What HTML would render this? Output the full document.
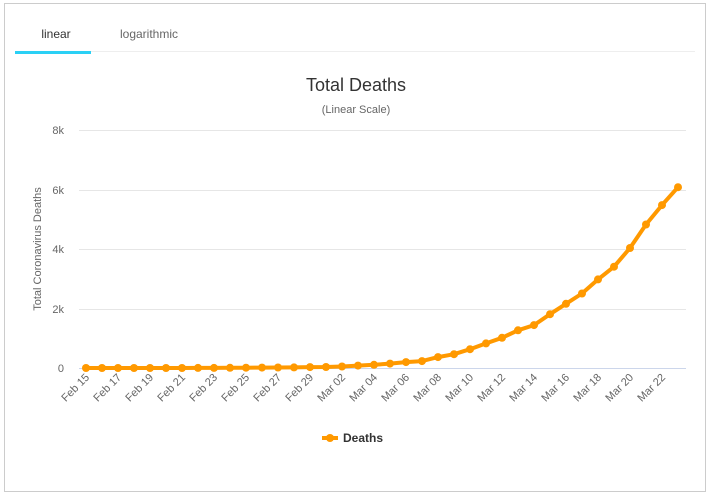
<!DOCTYPE html>
<html><head><meta charset="utf-8"><style>
body{margin:0;background:#fff;font-family:"Liberation Sans",sans-serif;}
</style></head><body>
<svg width="709" height="496" xmlns="http://www.w3.org/2000/svg" font-family="Liberation Sans, sans-serif">
<rect x="4.5" y="3.5" width="701" height="488" fill="#fff" stroke="#ccc"/>
<line x1="15" y1="51.5" x2="695" y2="51.5" stroke="#eee"/>
<rect x="15" y="51" width="76" height="3" fill="#2ad0f5"/>
<text x="56" y="38" font-size="12" fill="#333" text-anchor="middle">linear</text>
<text x="149" y="38" font-size="12" fill="#666" text-anchor="middle">logarithmic</text>
<text x="356" y="91" font-size="18" fill="#333" text-anchor="middle">Total Deaths</text>
<text x="356" y="113" font-size="11" fill="#666" text-anchor="middle">(Linear Scale)</text>
<g stroke="#e6e6e6"><line x1="79" y1="130.5" x2="686" y2="130.5"/><line x1="79" y1="190.5" x2="686" y2="190.5"/><line x1="79" y1="249.5" x2="686" y2="249.5"/><line x1="79" y1="309.5" x2="686" y2="309.5"/></g>
<line x1="79" y1="368.5" x2="686" y2="368.5" stroke="#ccd6eb"/>
<g font-size="11" fill="#666" text-anchor="end"><text x="64" y="134">8k</text><text x="64" y="194">6k</text><text x="64" y="253">4k</text><text x="64" y="313">2k</text><text x="64" y="372">0</text></g>
<text transform="translate(41,249) rotate(-90)" font-size="11" fill="#666" text-anchor="middle">Total Coronavirus Deaths</text>
<g font-size="11" fill="#666" text-anchor="end">
<text transform="translate(90,378) rotate(-45)">Feb 15</text>
<text transform="translate(122,378) rotate(-45)">Feb 17</text>
<text transform="translate(154,378) rotate(-45)">Feb 19</text>
<text transform="translate(186,378) rotate(-45)">Feb 21</text>
<text transform="translate(218,378) rotate(-45)">Feb 23</text>
<text transform="translate(250,378) rotate(-45)">Feb 25</text>
<text transform="translate(282,378) rotate(-45)">Feb 27</text>
<text transform="translate(314,378) rotate(-45)">Feb 29</text>
<text transform="translate(346,378) rotate(-45)">Mar 02</text>
<text transform="translate(378,378) rotate(-45)">Mar 04</text>
<text transform="translate(410,378) rotate(-45)">Mar 06</text>
<text transform="translate(442,378) rotate(-45)">Mar 08</text>
<text transform="translate(474,378) rotate(-45)">Mar 10</text>
<text transform="translate(506,378) rotate(-45)">Mar 12</text>
<text transform="translate(538,378) rotate(-45)">Mar 14</text>
<text transform="translate(570,378) rotate(-45)">Mar 16</text>
<text transform="translate(602,378) rotate(-45)">Mar 18</text>
<text transform="translate(634,378) rotate(-45)">Mar 20</text>
<text transform="translate(666,378) rotate(-45)">Mar 22</text>
</g>
<polyline fill="none" stroke="#ff9900" stroke-width="4" stroke-linejoin="round" points="86,368 102,368 118,368 134,368 150,368 166,368 182,368 198,367.9 214,367.9 230,367.8 246,367.7 262,367.6 278,367.5 294,367.4 310,367.1 326,367 342,366.5 358,365.6 374,364.8 390,363.6 406,362.1 422,361.1 438,357.1 454,354.2 470,349.2 486,343.4 502,337.8 518,330.3 534,325.1 550,314.2 566,303.8 582,293.5 598,279.4 614,266.7 630,248 646,224.5 662,205.1 678,187.2"/>
<g fill="#ff9900">
<circle cx="86" cy="368" r="4"/><circle cx="102" cy="368" r="4"/><circle cx="118" cy="368" r="4"/><circle cx="134" cy="368" r="4"/><circle cx="150" cy="368" r="4"/><circle cx="166" cy="368" r="4"/><circle cx="182" cy="368" r="4"/><circle cx="198" cy="367.9" r="4"/><circle cx="214" cy="367.9" r="4"/><circle cx="230" cy="367.8" r="4"/><circle cx="246" cy="367.7" r="4"/><circle cx="262" cy="367.6" r="4"/><circle cx="278" cy="367.5" r="4"/><circle cx="294" cy="367.4" r="4"/><circle cx="310" cy="367.1" r="4"/><circle cx="326" cy="367" r="4"/><circle cx="342" cy="366.5" r="4"/><circle cx="358" cy="365.6" r="4"/><circle cx="374" cy="364.8" r="4"/><circle cx="390" cy="363.6" r="4"/><circle cx="406" cy="362.1" r="4"/><circle cx="422" cy="361.1" r="4"/><circle cx="438" cy="357.1" r="4"/><circle cx="454" cy="354.2" r="4"/><circle cx="470" cy="349.2" r="4"/><circle cx="486" cy="343.4" r="4"/><circle cx="502" cy="337.8" r="4"/><circle cx="518" cy="330.3" r="4"/><circle cx="534" cy="325.1" r="4"/><circle cx="550" cy="314.2" r="4"/><circle cx="566" cy="303.8" r="4"/><circle cx="582" cy="293.5" r="4"/><circle cx="598" cy="279.4" r="4"/><circle cx="614" cy="266.7" r="4"/><circle cx="630" cy="248" r="4"/><circle cx="646" cy="224.5" r="4"/><circle cx="662" cy="205.1" r="4"/><circle cx="678" cy="187.2" r="4"/>
</g>
<line x1="322" y1="438" x2="338" y2="438" stroke="#ff9900" stroke-width="4"/>
<circle cx="330" cy="438" r="4" fill="#ff9900"/>
<text x="343" y="442" font-size="12" font-weight="bold" fill="#333">Deaths</text>
</svg>
</body></html>
